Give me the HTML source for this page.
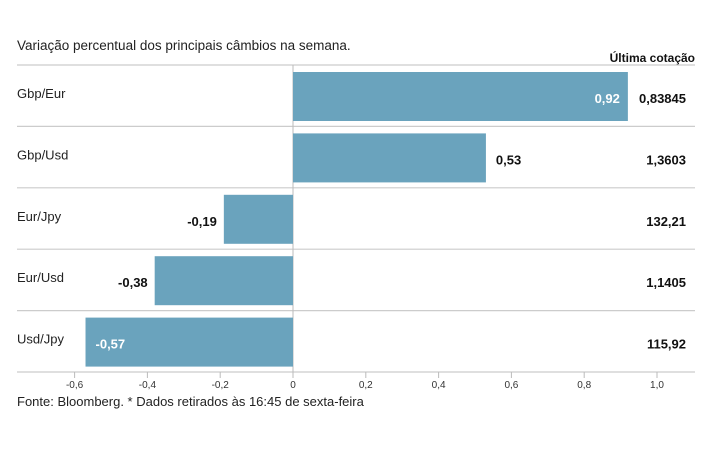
<!DOCTYPE html>
<html><head><meta charset="utf-8"><style>
body{margin:0;background:#fff;font-family:"Liberation Sans",sans-serif;}
svg text{font-family:"Liberation Sans",sans-serif;}
</style></head><body>
<svg width="715" height="445">
<text x="17" y="50" font-size="13.5" fill="#222">Variação percentual dos principais câmbios na semana.</text>
<text x="695" y="62" font-size="12" font-weight="bold" fill="#111" text-anchor="end">Última cotação</text>
<g id="g"></g>
<text x="17" y="406" font-size="13" fill="#222">Fonte: Bloomberg.  * Dados retirados às 16:45 de sexta-feira</text>
</svg>
<script>
const categories=["Gbp/Eur","Gbp/Usd","Eur/Jpy","Eur/Usd","Usd/Jpy"];
const values=[0.92,0.53,-0.19,-0.38,-0.57];
const labels=["0,92","0,53","-0,19","-0,38","-0,57"];
const quotes=["0,83845","1,3603","132,21","1,1405","115,92"];
const ticks=[-0.6,-0.4,-0.2,0,0.2,0.4,0.6,0.8,1.0];
const tickLabels=["-0,6","-0,4","-0,2","0","0,2","0,4","0,6","0,8","1,0"];
const NS="http://www.w3.org/2000/svg",g=document.getElementById('g');
const x=v=>293+v*364, top0=65, rowH=61.4;
function mk(t,a,txt){const e=document.createElementNS(NS,t);for(const k in a)e.setAttribute(k,a[k]);if(txt!=null)e.textContent=txt;g.appendChild(e);return e;}
for(let i=0;i<=categories.length;i++){
 const l=mk('line',{x1:17,x2:695,y1:top0+i*rowH,y2:top0+i*rowH,stroke:'#ccc','stroke-width':1.2});
 
 
}
const zl=mk('line',{x1:x(0),x2:x(0),y1:top0,y2:top0+5*rowH,stroke:'#bbb','stroke-width':1});


categories.forEach((c,i)=>{
 const y=top0+i*rowH, v=values[i];
 const cl=mk('text',{x:17,y:y+33,'font-size':13,fill:'#222'},c);
 
 
 const b=mk('rect',{x:Math.min(x(0),x(v)),y:y+7,width:Math.abs(x(v)-x(0)),height:49,fill:'#6aa3bd'});
 
 
 const inside=Math.abs(v)>0.5&&(Math.abs(v)>0.8||v<0);
 let lx,anchor,col;
 if(inside){col='#fff';if(v>0){lx=x(v)-8;anchor='end';}else{lx=x(v)+10;anchor='start';}}
 else{col='#111';if(v>0){lx=x(v)+10;anchor='start';}else{lx=x(v)-7;anchor='end';}}
 const vl=mk('text',{x:lx,y:y+38,'font-size':13,'font-weight':'bold',fill:col,'text-anchor':anchor},labels[i]);
 
 
 const q=mk('text',{x:686,y:y+38,'font-size':13,'font-weight':'bold',fill:'#111','text-anchor':'end'},quotes[i]);
 
 
});
const axY=top0+5*rowH;
ticks.forEach((t,i)=>{
 const tl=mk('line',{x1:x(t),x2:x(t),y1:axY,y2:axY+6,stroke:'#bbb'});
 
 
 const tt=mk('text',{x:x(t),y:axY+16,'font-size':10,fill:'#333','text-anchor':'middle'},tickLabels[i]);
 
 
});
</script>
</body></html>
